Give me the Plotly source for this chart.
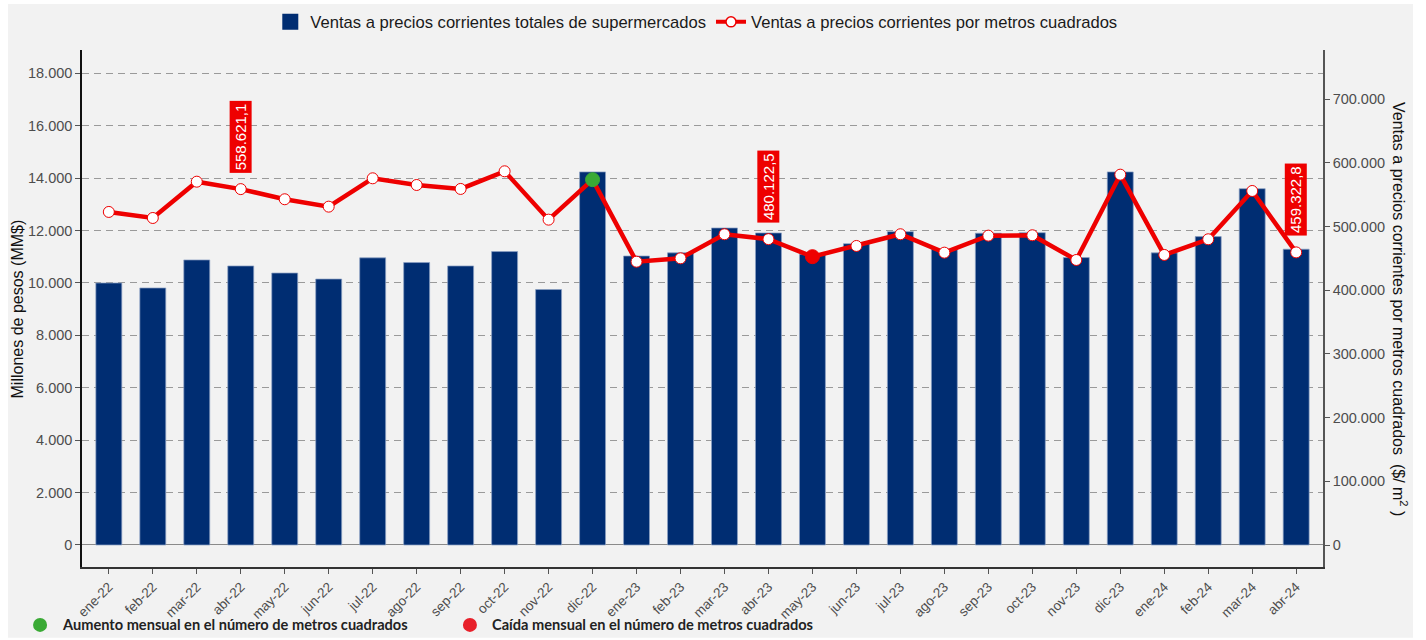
import plotly.graph_objects as go

categories = ["ene-22", "feb-22", "mar-22", "abr-22", "may-22", "jun-22", "jul-22", "ago-22",
              "sep-22", "oct-22", "nov-22", "dic-22", "ene-23", "feb-23", "mar-23", "abr-23",
              "may-23", "jun-23", "jul-23", "ago-23", "sep-23", "oct-23", "nov-23", "dic-23",
              "ene-24", "feb-24", "mar-24", "abr-24"]

ventas_totales = [10000, 9810, 10880, 10650, 10380, 10150, 10960, 10780,
                  10650, 11200, 9750, 14240, 11030, 11150, 12100, 11910,
                  11100, 11500, 11960, 11300, 11900, 11920, 10970, 14240,
                  11150, 11770, 13600, 11290]

ventas_m2 = [522800, 513300, 570300, 558621.1, 542700, 531100, 575600, 565100,
             558900, 586600, 510700, 573500, 444700, 450000, 487800, 480122.5,
             452600, 469400, 487800, 458900, 485600, 486200, 447400, 581300,
             455300, 479900, 555700, 459322.8]

# marker state: 0 = normal, 1 = aumento m2, -1 = caída m2
estado_m2 = [0, 0, 0, 0, 0, 0, 0, 0, 0, 0, 0, 1, 0, 0, 0, 0,
             -1, 0, 0, 0, 0, 0, 0, 0, 0, 0, 0, 0]

etiquetas = ["abr-22", "abr-23", "abr-24"]

left_ticks = [0, 2000, 4000, 6000, 8000, 10000, 12000, 14000, 16000, 18000]
right_ticks = [0, 100000, 200000, 300000, 400000, 500000, 600000, 700000]

NAVY = "#002d72"
RED = "#ee0000"
GREEN = "#3aaa35"
BG = "#f2f2f2"

fill_map = {0: "white", 1: GREEN, -1: RED}
line_map = {0: RED, 1: GREEN, -1: RED}
size_map = {0: 11, 1: 14, -1: 14}
fills = [fill_map[s] for s in estado_m2]
lines = [line_map[s] for s in estado_m2]
sizes = [size_map[s] for s in estado_m2]

fig = go.Figure()

fig.add_trace(go.Bar(
    x=categories, y=ventas_totales, width=0.59,
    marker=dict(color=NAVY, line=dict(color="rgba(140,160,195,0.9)", width=0.8)),
    showlegend=False, yaxis="y",
))

fig.add_trace(go.Scatter(
    x=categories, y=ventas_m2, yaxis="y2", mode="lines+markers",
    line=dict(color=RED, width=4.5),
    marker=dict(size=sizes, color=fills, opacity=1, line=dict(color=lines, width=1)),
    showlegend=False, cliponaxis=False,
))

# legend entries
fig.add_trace(go.Scatter(
    x=[None], y=[None], mode="markers",
    marker=dict(symbol="square", size=16, color=NAVY),
    name="Ventas a precios corrientes totales de supermercados",
))
fig.add_trace(go.Scatter(
    x=[None], y=[None], mode="lines+markers", yaxis="y2",
    line=dict(color=RED, width=4),
    marker=dict(size=10, color="white", line=dict(color=RED, width=1.5)),
    name="Ventas a precios corrientes por metros cuadrados",
))

def fmt_es(v):
    s = f"{v:,.1f}"
    return s.replace(",", "X").replace(".", ",").replace("X", ".")

annotations = []
for cat in etiquetas:
    i = categories.index(cat)
    annotations.append(dict(
        x=cat, y=ventas_m2[i], xref="x", yref="y2",
        text=fmt_es(ventas_m2[i]), textangle=-90,
        showarrow=False, yanchor="bottom", yshift=16,
        bgcolor=RED, borderpad=2,
        font=dict(color="white", size=15, family="Liberation Sans, Arial"),
    ))

# axis titles
annotations.append(dict(
    x=-0.0516, y=0.5, xref="paper", yref="paper", text="Millones de pesos (MM$)",
    textangle=-90, showarrow=False, xanchor="center", yanchor="middle",
    font=dict(size=16, color="#111", family="Liberation Sans, Arial"),
))
annotations.append(dict(
    x=1.0625, y=0.5, xref="paper", yref="paper",
    text="Ventas a precios corrientes por metros cuadrados  ($/ m<sup>2</sup> )",
    textangle=90, showarrow=False, xanchor="center", yanchor="middle",
    font=dict(size=16, color="#111", family="Liberation Sans, Arial"),
))

# bottom legend
annotations.append(dict(
    x=-0.0177, y=-0.112, xref="paper", yref="paper",
    text="Aumento mensual en el número de metros cuadrados",
    showarrow=False, xanchor="left", yanchor="middle",
    font=dict(size=14.6, color="#222", family="Lato", weight="bold"),
))
annotations.append(dict(
    x=0.329, y=-0.112, xref="paper", yref="paper",
    text="Caída mensual en el número de metros cuadrados",
    showarrow=False, xanchor="left", yanchor="middle",
    font=dict(size=14.6, color="#222", family="Lato", weight="bold"),
))

shapes = [
    dict(type="rect", xref="paper", yref="paper", x0=-0.0596, x1=1.0725, y0=-0.137, y1=1.089,
         fillcolor=BG, line=dict(width=0), layer="below"),
    dict(type="circle", xref="paper", yref="paper", xsizemode="pixel", ysizemode="pixel",
         xanchor=-0.0338, yanchor=-0.112, x0=-7, x1=7, y0=-7, y1=7,
         fillcolor=GREEN, line=dict(width=0)),
    dict(type="circle", xref="paper", yref="paper", xsizemode="pixel", ysizemode="pixel",
         xanchor=0.3126, yanchor=-0.112, x0=-7, x1=7, y0=-7, y1=7,
         fillcolor="#e8202a", line=dict(width=0)),
]

fig.update_layout(
    width=1426, height=640,
    margin=dict(l=82, r=103, t=50, b=73, autoexpand=False),
    paper_bgcolor="white", plot_bgcolor=BG,
    separators=",.",
    font=dict(family="Liberation Sans, Arial", color="#4d4d4d"),
    legend=dict(orientation="h", x=0.495, xanchor="center", y=1.054, yanchor="middle",
                font=dict(size=16.6, color="#1a1a1a"), bgcolor="rgba(0,0,0,0)",
                itemwidth=30, tracegroupgap=0),
    xaxis=dict(
        type="category", range=[-0.61, 27.61], tickangle=-45,
        tickfont=dict(size=13.5, color="#4d4d4d"),
        showline=True, linecolor="#333", linewidth=1.5,
        ticks="outside", ticklen=5, tickcolor="#555",
        showgrid=False, zeroline=False,
    ),
    yaxis=dict(
        range=[-840, 18893], tickvals=left_ticks, tickformat=",",
        tickfont=dict(size=14.5, color="#4d4d4d"),
        showline=True, linecolor="#111", linewidth=1.5,
        ticks="outside", ticklen=5, tickcolor="#555",
        showgrid=True, gridcolor="#9a9a9a", griddash="7px,5px", gridwidth=1,
        zeroline=True, zerolinecolor="#8a8a8a", zerolinewidth=1,
    ),
    yaxis2=dict(
        overlaying="y", side="right",
        range=[-34540, 777000], tickvals=right_ticks, tickformat=",",
        tickfont=dict(size=14.5, color="#4d4d4d"),
        showline=True, linecolor="#555", linewidth=1.5,
        ticks="outside", ticklen=5, tickcolor="#555",
        showgrid=False, zeroline=False,
    ),
    annotations=annotations,
    shapes=shapes,
)

fig.write_html("out.html", config={"displayModeBar": False},
               post_script="document.body.style.margin='0px';")
